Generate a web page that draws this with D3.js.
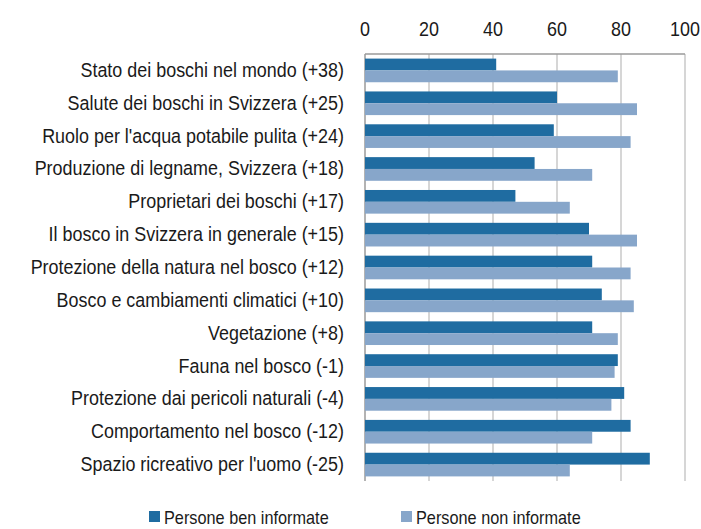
<!DOCTYPE html>
<html>
<head>
<meta charset="utf-8">
<script src="https://cdn.jsdelivr.net/npm/d3@7"></script>
<style>
  body { margin: 0; background: #fff; }
  svg text { font-family: "Liberation Sans", Arial, sans-serif; fill: #1a1a1a; }
  .grid line { stroke: #c8c8c8; stroke-width: 1.5; }
  .domain-line { stroke: #9a9a9a; stroke-width: 1.5; }
</style>
</head>
<body>
<div id="chart"></div>
<script>
// --- Conoscenza del bosco: persone ben informate vs. non informate ---

const categories = [
  "Stato dei boschi nel mondo (+38)",
  "Salute dei boschi in Svizzera (+25)",
  "Ruolo per l'acqua potabile pulita (+24)",
  "Produzione di legname, Svizzera (+18)",
  "Proprietari dei boschi (+17)",
  "Il bosco in Svizzera in generale (+15)",
  "Protezione della natura nel bosco (+12)",
  "Bosco e cambiamenti climatici (+10)",
  "Vegetazione (+8)",
  "Fauna nel bosco (-1)",
  "Protezione dai pericoli naturali (-4)",
  "Comportamento nel bosco (-12)",
  "Spazio ricreativo per l'uomo (-25)"
];
const informed = [41, 60, 59, 53, 47, 70, 71, 74, 71, 79, 81, 83, 89];
const notInformed = [79, 85, 83, 71, 64, 85, 83, 84, 79, 78, 77, 71, 64];
const xTicks = [0, 20, 40, 60, 80, 100];
const seriesNames = ["Persone ben informate", "Persone non informate"];
const colors = ["#1f6ca1", "#87a6ca"];

const W = 701, H = 529;
const margin = { top: 54, right: 16, bottom: 48, left: 365 };
const height = H - margin.top - margin.bottom;
const narrow = 0.92; // squeeze text horizontally, reference uses a condensed face

const svg = d3.select('#chart').append('svg')
  .attr('width', W)
  .attr('height', H);

const g = svg.append('g')
  .attr('transform', `translate(${margin.left},${margin.top})`);

const xScale = d3.scaleLinear().domain([0, 100]).range([0, 320]);
const yScale = d3.scaleBand().domain(categories).range([0, height]).paddingInner(0.28).paddingOuter(0.14);

function condensedText(sel, x, y) {
  return sel.attr('transform', (d, i) => `translate(${x(d, i)},${y(d, i)}) scale(${narrow},1)`);
}

// gridlines
g.append('g')
  .attr('class', 'grid')
  .selectAll('line')
  .data(xTicks.slice(1))
  .join('line')
  .attr('x1', d => xScale(d)).attr('x2', d => xScale(d))
  .attr('y1', 0).attr('y2', height);

// top axis line + left axis line
g.append('line').attr('class', 'domain-line')
  .attr('x1', 0).attr('x2', xScale(100)).attr('y1', 0).attr('y2', 0);
g.append('line').attr('class', 'domain-line')
  .attr('x1', 0).attr('x2', 0).attr('y1', 0).attr('y2', height);

// tick labels on top
g.append('g')
  .selectAll('text')
  .data(xTicks)
  .join('text')
  .call(condensedText, d => xScale(d), () => -18)
  .attr('text-anchor', 'middle')
  .style('font-size', '19.5px')
  .text(d => d);

// bars
const barH = yScale.bandwidth() / 2;
const rows = g.append('g').selectAll('g')
  .data(categories)
  .join('g')
  .attr('transform', d => `translate(0,${yScale(d)})`);

rows.append('rect')
  .attr('x', 0).attr('y', 0)
  .attr('height', barH)
  .attr('width', (d, i) => xScale(informed[i]))
  .attr('fill', colors[0]);

rows.append('rect')
  .attr('x', 0).attr('y', barH)
  .attr('height', barH)
  .attr('width', (d, i) => xScale(notInformed[i]))
  .attr('fill', colors[1]);

// category labels
g.append('g')
  .selectAll('text')
  .data(categories)
  .join('text')
  .call(condensedText, () => -21, d => yScale(d) + yScale.bandwidth() / 2 + 6.5)
  .attr('text-anchor', 'end')
  .style('font-size', '19.5px')
  .text(d => d);

// legend
const legendX = [149, 401];
const legend = svg.append('g').selectAll('g')
  .data(seriesNames)
  .join('g')
  .attr('transform', (d, i) => `translate(${legendX[i]},511)`);

legend.append('rect')
  .attr('width', 11).attr('height', 11)
  .attr('fill', (d, i) => colors[i]);

legend.append('text')
  .call(condensedText, () => 15, () => 12.5)
  .style('font-size', '17.7px')
  .text(d => d);
</script>
</body>
</html>
